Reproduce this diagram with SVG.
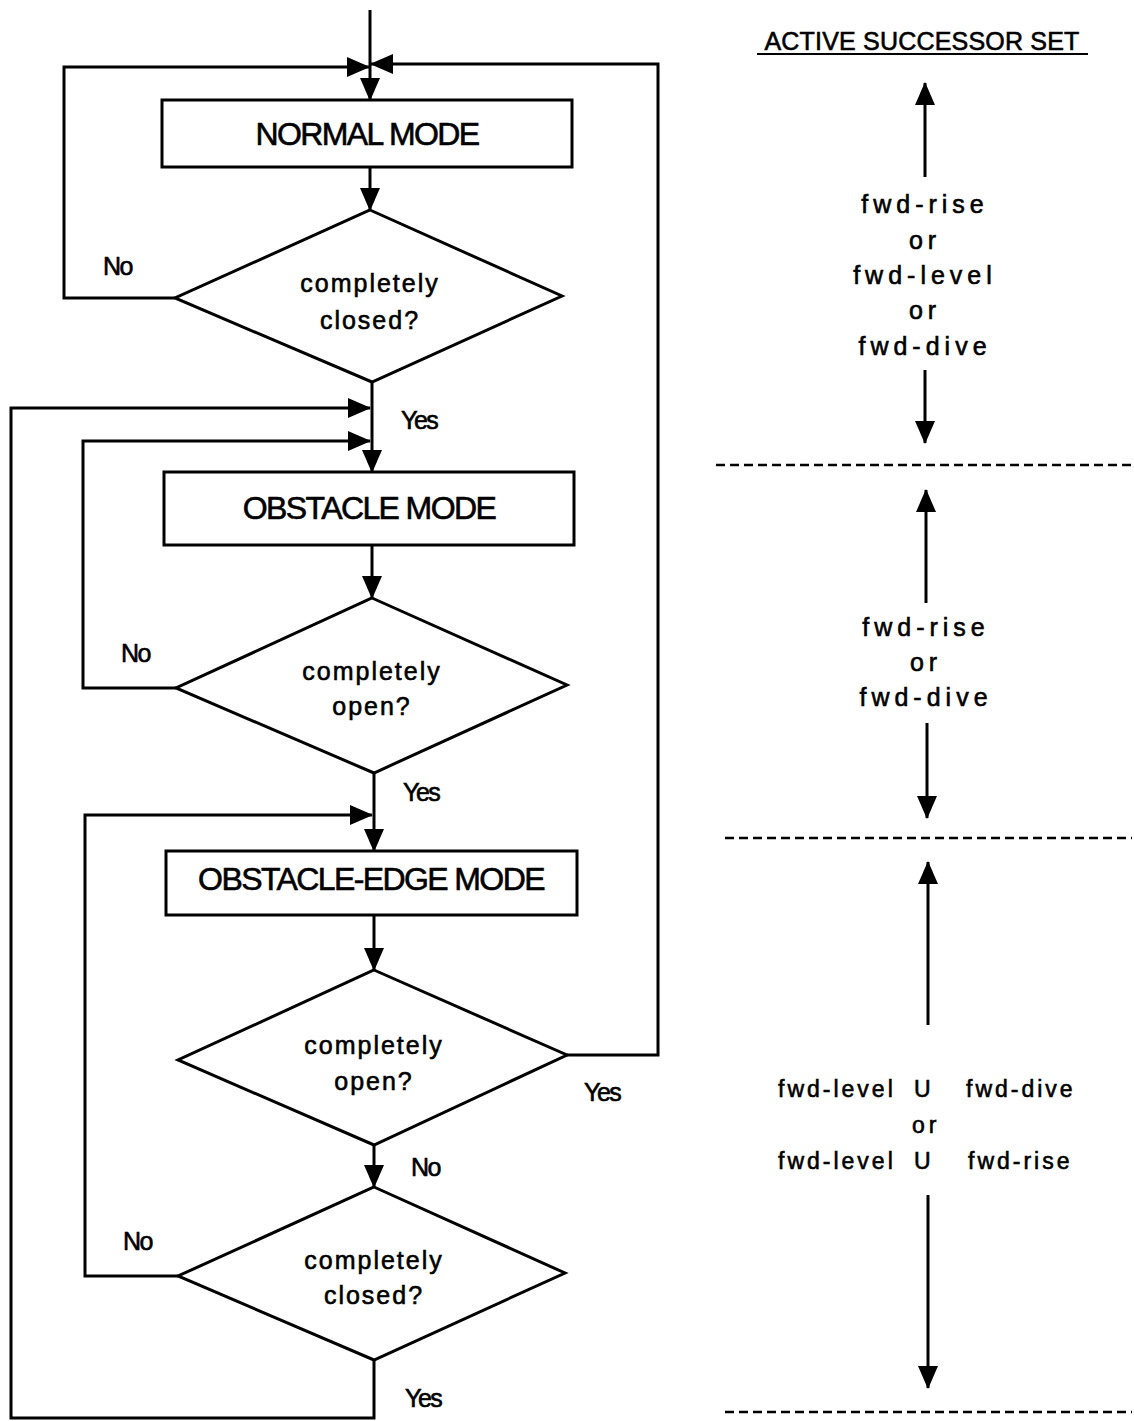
<svg xmlns="http://www.w3.org/2000/svg" width="1134" height="1421" viewBox="0 0 1134 1421">
  <defs>
    <marker id="arrow" markerUnits="userSpaceOnUse" markerWidth="23" markerHeight="20" refX="22" refY="10" orient="auto">
      <path d="M0,0 L23,10 L0,20 Z" fill="#000"/>
    </marker>
    <style>
      .shape { fill: #fff; stroke: #000; stroke-width: 3; }
      .line { fill: none; stroke: #000; stroke-width: 3; }
      .arr { fill: none; stroke: #000; stroke-width: 3; marker-end: url(#arrow); }
      .dash { fill: none; stroke: #000; stroke-width: 2.5; stroke-dasharray: 9 5; }
      text { font-family: "Liberation Sans", Arial, sans-serif; fill: #000; stroke: #000; stroke-width: 0.6; }
      .mode { font-size: 32px; letter-spacing: -1.6px; text-anchor: middle; }
      .cond { font-size: 25px; letter-spacing: 2px; text-anchor: middle; }
      .lbl { font-size: 25px; letter-spacing: -1.5px; }
      .set { font-size: 25px; letter-spacing: 5px; text-anchor: middle; }
      .set2 { font-size: 23px; letter-spacing: 3px; }
      .title { font-size: 25px; letter-spacing: 0.2px; text-anchor: middle; }
    </style>
  </defs>

  <!-- flow connectors -->
  <g id="connectors">
    <path class="line" d="M370,10 V66"/>
    <path class="arr" d="M370,66 V100"/>
    <!-- NORMAL MODE "No" loop -->
    <path class="arr" d="M175,298 H64 V67 H369"/>
    <!-- edge-mode "completely open" Yes loop back to normal -->
    <path class="arr" d="M567,1055 H658 V64 H371"/>
    <path class="arr" d="M370,167 V210"/>
    <path class="arr" d="M372,382 V472"/>
    <!-- edge-mode "completely closed" Yes loop back to obstacle mode -->
    <path class="arr" d="M374,1360 V1418 H11 V408 H370"/>
    <!-- obstacle mode "No" loop -->
    <path class="arr" d="M176,688 H83 V441 H370"/>
    <path class="arr" d="M372,545 V598"/>
    <path class="arr" d="M374,773 V851"/>
    <!-- edge-mode "No" loop -->
    <path class="arr" d="M178,1276 H85 V815 H372"/>
    <path class="arr" d="M374,915 V970"/>
    <path class="arr" d="M374,1145 V1187"/>
  </g>

  <g id="normal-mode">
    <rect class="shape" x="162" y="100" width="410" height="67"/>
    <text class="mode" x="367" y="145">NORMAL MODE</text>
  </g>
  <g id="check-closed-1">
    <polygon class="shape" points="370,210 562,296 372,382 175,298"/>
    <text class="cond" x="370" y="292">completely</text>
    <text class="cond" x="370" y="329">closed?</text>
  </g>
  <g id="obstacle-mode">
    <rect class="shape" x="164" y="472" width="410" height="73"/>
    <text class="mode" x="369" y="519">OBSTACLE MODE</text>
  </g>
  <g id="check-open-1">
    <polygon class="shape" points="372,598 567,685 374,773 176,688"/>
    <text class="cond" x="372" y="680">completely</text>
    <text class="cond" x="372" y="715">open?</text>
  </g>
  <g id="obstacle-edge-mode">
    <rect class="shape" x="166" y="851" width="411" height="64"/>
    <text class="mode" x="371" y="890">OBSTACLE-EDGE MODE</text>
  </g>
  <g id="check-open-2">
    <polygon class="shape" points="374,970 567,1055 374,1145 178,1060"/>
    <text class="cond" x="374" y="1054">completely</text>
    <text class="cond" x="374" y="1090">open?</text>
  </g>
  <g id="check-closed-2">
    <polygon class="shape" points="374,1187 565,1273 374,1360 178,1276"/>
    <text class="cond" x="374" y="1269">completely</text>
    <text class="cond" x="374" y="1304">closed?</text>
  </g>

  <!-- branch labels -->
  <g id="labels">
    <text class="lbl" x="103" y="275">No</text>
    <text class="lbl" x="401" y="429">Yes</text>
    <text class="lbl" x="121" y="662">No</text>
    <text class="lbl" x="403" y="801">Yes</text>
    <text class="lbl" x="584" y="1101">Yes</text>
    <text class="lbl" x="411" y="1176">No</text>
    <text class="lbl" x="123" y="1250">No</text>
    <text class="lbl" x="405" y="1407">Yes</text>
  </g>

  <!-- successor set column -->
  <g id="successor-set">
    <text class="title" x="922" y="50">ACTIVE SUCCESSOR SET</text>
    <line class="line" x1="757" y1="54" x2="1088" y2="54" style="stroke-width:2"/>

    <path class="arr" d="M925,177 V83"/>
    <text class="set" x="925" y="213">fwd-rise</text>
    <text class="set" x="925" y="249">or</text>
    <text class="set" x="925" y="284">fwd-level</text>
    <text class="set" x="925" y="319">or</text>
    <text class="set" x="925" y="355">fwd-dive</text>
    <path class="arr" d="M925,370 V443"/>
    <line class="dash" x1="716" y1="465" x2="1134" y2="465"/>

    <path class="arr" d="M926,603 V490"/>
    <text class="set" x="926" y="636">fwd-rise</text>
    <text class="set" x="926" y="671">or</text>
    <text class="set" x="926" y="706">fwd-dive</text>
    <path class="arr" d="M927,723 V818"/>
    <line class="dash" x1="725" y1="838" x2="1132" y2="838"/>

    <path class="arr" d="M928,1025 V862"/>
    <text class="set2" x="778" y="1097">fwd-level</text>
    <text class="set2" x="914" y="1097">U</text>
    <text class="set2" x="966" y="1097">fwd-dive</text>
    <text class="set2" x="912" y="1133" style="letter-spacing:4px">or</text>
    <text class="set2" x="778" y="1169">fwd-level</text>
    <text class="set2" x="914" y="1169">U</text>
    <text class="set2" x="968" y="1169">fwd-rise</text>
    <path class="arr" d="M928,1195 V1388"/>
    <line class="dash" x1="725" y1="1412" x2="1132" y2="1412"/>
  </g>
</svg>
